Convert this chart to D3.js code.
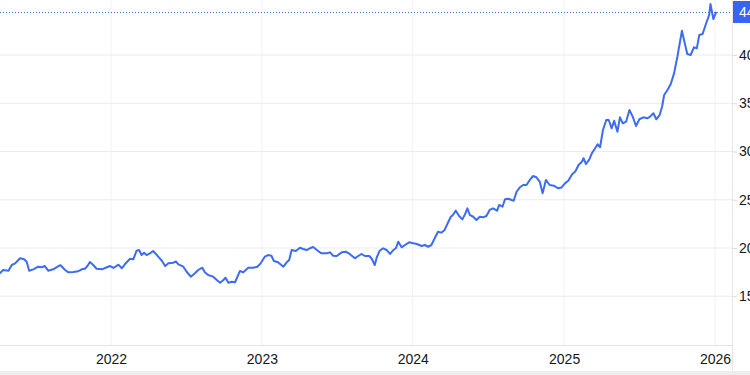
<!DOCTYPE html>
<html>
<head>
<meta charset="utf-8">
<script src="https://cdn.jsdelivr.net/npm/d3@7"></script>
<style>
  html, body { margin: 0; padding: 0; background: #ffffff; }
  svg { display: block; }
</style>
</head>
<body>
<div id="chart"></div>
<script>
// dates and closing values
var dates = [
  "2021-03-26","2021-04-07","2021-04-15","2021-04-28","2021-05-06","2021-05-14","2021-05-26","2021-06-05",
  "2021-06-11","2021-06-17","2021-06-27","2021-07-09","2021-07-17","2021-07-25","2021-08-02","2021-08-14",
  "2021-08-27","2021-09-01","2021-09-12","2021-09-20","2021-10-02","2021-10-14","2021-10-22","2021-10-30",
  "2021-11-05","2021-11-11","2021-11-19","2021-11-27","2021-12-10","2021-12-22","2021-12-30",
  "2022-01-07","2022-01-19","2022-01-27","2022-02-04","2022-02-16","2022-02-24","2022-03-04","2022-03-10",
  "2022-03-16","2022-03-22","2022-03-28","2022-04-05","2022-04-13","2022-04-22","2022-05-04","2022-05-12",
  "2022-05-20","2022-06-01","2022-06-07","2022-06-13","2022-06-25","2022-07-03","2022-07-13","2022-07-23",
  "2022-07-31","2022-08-10","2022-08-16","2022-08-24","2022-09-05","2022-09-14","2022-09-22","2022-09-30",
  "2022-10-05","2022-10-12","2022-10-20","2022-10-28","2022-11-09","2022-11-17","2022-11-29","2022-12-11",
  "2022-12-21","2022-12-29",
  "2023-01-08","2023-01-16","2023-01-24","2023-01-30","2023-02-09","2023-02-22","2023-03-02","2023-03-08",
  "2023-03-14","2023-03-24","2023-04-03","2023-04-11","2023-04-19","2023-04-27","2023-05-05","2023-05-17",
  "2023-05-25","2023-06-07","2023-06-15","2023-06-22","2023-07-01","2023-07-13","2023-07-23","2023-08-02",
  "2023-08-14","2023-08-22","2023-08-30","2023-09-07","2023-09-18","2023-09-24","2023-10-01","2023-10-06",
  "2023-10-13","2023-10-21","2023-10-30","2023-11-07","2023-11-15","2023-11-21","2023-11-27","2023-12-05",
  "2023-12-13","2023-12-23",
  "2024-01-02","2024-01-11","2024-01-22","2024-01-30","2024-02-07","2024-02-15","2024-02-23","2024-03-02",
  "2024-03-10","2024-03-18","2024-03-26","2024-04-02","2024-04-07","2024-04-14","2024-04-22","2024-04-30",
  "2024-05-08","2024-05-12","2024-05-18","2024-05-26","2024-06-03","2024-06-11","2024-06-19","2024-06-27",
  "2024-07-05","2024-07-13","2024-07-23","2024-07-28","2024-08-05","2024-08-11","2024-08-19","2024-08-27",
  "2024-09-01","2024-09-08","2024-09-16","2024-09-24","2024-10-02","2024-10-10","2024-10-18","2024-10-26",
  "2024-11-03","2024-11-10","2024-11-18","2024-11-27","2024-12-07","2024-12-17","2024-12-26",
  "2025-01-03","2025-01-11","2025-01-20","2025-01-28","2025-02-05","2025-02-13","2025-02-17","2025-02-23",
  "2025-03-03","2025-03-09","2025-03-17","2025-03-23","2025-03-29","2025-04-05","2025-04-13","2025-04-19",
  "2025-04-26","2025-05-02","2025-05-10","2025-05-16","2025-05-23","2025-05-31","2025-06-08","2025-06-16",
  "2025-06-24","2025-07-02","2025-07-12","2025-07-21","2025-07-28","2025-08-05","2025-08-12","2025-08-20",
  "2025-08-26","2025-08-31","2025-09-08","2025-09-16","2025-09-24","2025-10-02","2025-10-13","2025-10-18",
  "2025-10-26","2025-11-03","2025-11-11","2025-11-18","2025-11-24","2025-12-02","2025-12-10","2025-12-18",
  "2025-12-21","2025-12-28","2026-01-04"
];
var prices = [
  17.20,17.38,17.72,17.65,18.24,18.41,18.93,18.83,
  18.58,17.65,17.79,18.06,18.00,18.13,17.65,17.79,
  18.13,18.21,17.72,17.48,17.51,17.59,17.79,17.85,
  18.13,18.55,18.24,17.85,17.79,18.00,18.13,
  17.93,18.27,17.90,18.34,18.89,18.83,19.72,19.79,
  19.27,19.51,19.27,19.45,19.69,19.27,18.68,18.13,
  18.41,18.48,18.60,18.31,18.06,17.54,17.03,17.38,
  17.72,17.96,17.48,17.20,17.03,16.68,16.40,16.68,
  16.92,16.40,16.51,16.45,17.62,17.48,17.96,17.96,
  18.06,18.41,
  19.10,19.27,19.20,18.65,18.52,18.06,18.52,18.76,
  19.79,19.69,20.03,19.90,19.79,19.97,20.10,19.69,
  19.45,19.45,19.55,19.20,19.17,19.55,19.62,19.36,
  18.93,19.17,19.38,19.17,19.17,18.86,18.24,19.04,
  19.72,19.97,19.79,19.38,19.79,19.97,20.65,20.07,
  20.31,20.59,
  20.49,20.41,20.21,20.31,20.13,20.31,21.01,21.69,
  21.59,21.87,22.62,23.24,23.42,23.87,23.32,22.97,
  23.66,24.11,23.42,23.24,22.90,23.24,23.18,23.32,
  23.94,24.11,23.87,24.46,24.28,25.05,25.11,24.97,
  24.90,25.83,26.29,26.53,26.53,27.05,27.46,27.33,
  26.89,25.67,27.05,26.53,26.46,26.19,26.27,
  26.70,26.97,27.62,27.93,28.60,28.94,29.30,28.70,
  29.19,29.81,30.33,30.75,30.44,32.23,33.26,33.26,
  32.40,33.19,32.05,33.54,32.92,33.09,34.30,33.61,
  32.64,33.34,33.54,33.44,33.61,33.96,33.34,33.78,
  34.64,35.85,36.37,36.99,38.10,39.82,42.52,41.55,
  40.10,40.00,40.80,40.69,42.07,42.18,43.21,44.15,
  45.28,43.73,44.46
];
var yTicks = [15, 20, 25, 30, 35, 40];
var xTicks = ["2022-01-01", "2023-01-01", "2024-01-01", "2025-01-01", "2026-01-01"];

var width = 750, height = 375;
var plotRight = 732, plotBottom = 345;
var parse = d3.timeParse("%Y-%m-%d");

var data = dates.map(function(d, i) { return { date: parse(d), value: prices[i] }; });

var x = d3.scaleTime()
    .domain([parse("2022-01-01"), parse("2026-01-01")])
    .range([111, 715]);

var y = d3.scaleLinear()
    .domain([15, 40])
    .range([296.25, 55]);

var svg = d3.select("#chart")
    .append("svg")
    .attr("width", width)
    .attr("height", height)
    .style("font-family", "'Liberation Sans', Arial, sans-serif");

// bottom strip
svg.append("rect")
    .attr("x", 0).attr("y", 371)
    .attr("width", width).attr("height", 4)
    .attr("fill", "#eeeeee");

// vertical grid
svg.append("g")
    .selectAll("line")
    .data(xTicks)
    .enter()
    .append("line")
    .attr("x1", d => x(parse(d))).attr("x2", d => x(parse(d)))
    .attr("y1", 0).attr("y2", plotBottom)
    .attr("stroke", "#eef2f8")
    .attr("stroke-width", 1);

// horizontal grid
svg.append("g")
    .selectAll("line")
    .data(yTicks)
    .enter()
    .append("line")
    .attr("x1", 0).attr("x2", plotRight)
    .attr("y1", d => y(d)).attr("y2", d => y(d))
    .attr("stroke", "#ebebef")
    .attr("stroke-width", 1);

// right axis
var yAxis = d3.axisRight(y)
    .tickValues(yTicks)
    .tickSize(5)
    .tickPadding(2)
    .tickFormat(d3.format("d"));

var gy = svg.append("g")
    .attr("transform", "translate(" + plotRight + ",0)")
    .call(yAxis);
gy.select(".domain").remove();
gy.selectAll(".tick line").attr("stroke", "#dcdcdc");
gy.selectAll(".tick text")
    .attr("fill", "#131722")
    .style("font-size", "14px")
    .style("font-family", "'Liberation Sans', Arial, sans-serif");

svg.append("line")
    .attr("x1", plotRight + 0.5).attr("x2", plotRight + 0.5)
    .attr("y1", 0).attr("y2", 371)
    .attr("stroke", "#e6e6e6");

// bottom axis
var xAxis = d3.axisBottom(x)
    .tickValues(xTicks.map(parse))
    .tickSize(0)
    .tickPadding(9)
    .tickFormat(d3.timeFormat("%Y"));

var gx = svg.append("g")
    .attr("transform", "translate(0," + plotBottom + ")")
    .call(xAxis);
gx.select(".domain").remove();
gx.selectAll(".tick text")
    .attr("fill", "#131722")
    .style("font-size", "14px")
    .style("font-family", "'Liberation Sans', Arial, sans-serif");

svg.append("line")
    .attr("x1", 0).attr("x2", plotRight)
    .attr("y1", plotBottom + 0.5).attr("y2", plotBottom + 0.5)
    .attr("stroke", "#e3e3e3");

// clip the series to the plot area
svg.append("clipPath")
    .attr("id", "plot")
    .append("rect")
    .attr("x", 0).attr("y", 0)
    .attr("width", plotRight).attr("height", plotBottom);

var last = data[data.length - 1];

// dotted last price line
svg.append("line")
    .attr("x1", 0).attr("x2", plotRight)
    .attr("y1", Math.round(y(last.value)) + 0.5)
    .attr("y2", Math.round(y(last.value)) + 0.5)
    .attr("stroke", "#3d6cf2")
    .attr("stroke-width", 1)
    .attr("stroke-dasharray", "1,2");

var line = d3.line()
    .x(d => x(d.date))
    .y(d => y(d.value));

svg.append("path")
    .datum(data)
    .attr("clip-path", "url(#plot)")
    .attr("fill", "none")
    .attr("stroke", "#3d6cf2")
    .attr("stroke-width", 2)
    .attr("stroke-linejoin", "round")
    .attr("d", line);

// last price label
var ly = y(last.value);
svg.append("rect")
    .attr("x", plotRight + 1).attr("y", ly - 11)
    .attr("width", 60).attr("height", 22)
    .attr("fill", "#3764f5");

svg.append("text")
    .attr("x", plotRight + 7)
    .attr("y", ly)
    .attr("dy", "0.36em")
    .attr("fill", "#ffffff")
    .style("font-size", "14px")
    .text(d3.format(".2f")(last.value));
</script>
</body>
</html>
